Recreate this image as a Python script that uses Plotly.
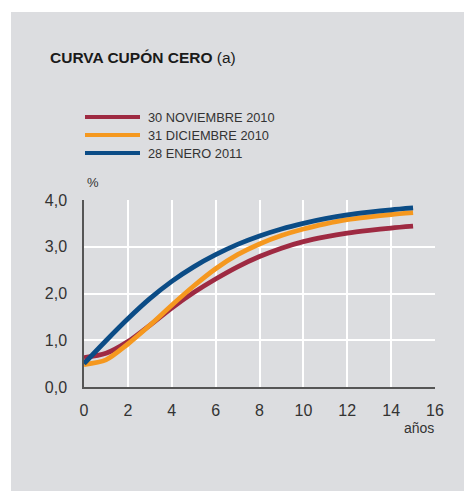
import plotly.graph_objects as go

# zero-coupon curves (years -> %)
years = [0, 1, 2, 3, 4, 5, 6, 7, 8, 9, 10, 11, 12, 13, 14, 15]
nov_2010 = [0.63, 0.72, 0.97, 1.32, 1.69, 2.02, 2.31, 2.57, 2.79, 2.97, 3.11, 3.21, 3.29, 3.35, 3.40, 3.44]
dic_2010 = [0.48, 0.58, 0.92, 1.32, 1.75, 2.16, 2.53, 2.83, 3.06, 3.24, 3.38, 3.49, 3.58, 3.64, 3.69, 3.73]
ene_2011 = [0.50, 0.99, 1.46, 1.89, 2.26, 2.57, 2.83, 3.05, 3.23, 3.38, 3.50, 3.60, 3.68, 3.74, 3.79, 3.83]

names = ["30 NOVIEMBRE 2010", "31 DICIEMBRE 2010", "28 ENERO 2011"]
colors = ["#9e2a42", "#f5981f", "#0b4c86"]
series = [nov_2010, dic_2010, ene_2011]

x_ticks = [0, 2, 4, 6, 8, 10, 12, 14, 16]
y_ticks = [0, 1, 2, 3, 4]
y_labels = ["0,0", "1,0", "2,0", "3,0", "4,0"]

W, H = 464, 491
ml, mr, mt, mb = 84, 29, 200, 104
pw, ph = W - ml - mr, H - mt - mb


def px(x):  # pixel -> paper x
    return (x - ml) / pw


def py(y):  # pixel -> paper y
    return (H - mb - y) / ph


fig = go.Figure()
for name, col, vals in zip(names, colors, series):
    fig.add_trace(go.Scatter(x=years, y=vals, name=name, mode="lines",
                             line=dict(color=col, width=4.8, shape="spline", smoothing=0.8),
                             showlegend=False))

shapes = [dict(type="rect", xref="paper", yref="paper", layer="below",
               x0=px(11), x1=px(W + 5), y0=py(H + 5), y1=py(12),
               fillcolor="#dcdde0", line_width=0)]
annotations = []
for i, (name, col) in enumerate(zip(names, colors)):
    yy = 117 + 18 * i
    shapes.append(dict(type="line", xref="paper", yref="paper",
                       x0=px(85), x1=px(140), y0=py(yy), y1=py(yy),
                       line=dict(color=col, width=4)))
    annotations.append(dict(text=name, xref="paper", yref="paper", x=px(146), y=py(yy),
                            xanchor="left", yanchor="middle", showarrow=False,
                            font=dict(size=12.8, color="#333333")))

annotations += [
    dict(text="<b>CURVA CUPÓN CERO</b> (a)", xref="paper", yref="paper", x=px(48), y=py(57),
         xanchor="left", yanchor="middle", showarrow=False,
         font=dict(size=15.5, color="#1a1a1a")),
    dict(text="%", xref="paper", yref="paper", x=px(85), y=py(182),
         xanchor="left", yanchor="middle", showarrow=False,
         font=dict(size=13, color="#333333")),
    dict(text="años", xref="paper", yref="paper", x=px(436), y=py(428),
         xanchor="right", yanchor="middle", showarrow=False,
         font=dict(size=14, color="#333333")),
]

fig.update_layout(
    width=W, height=H,
    margin=dict(l=ml, r=mr, t=mt, b=mb),
    paper_bgcolor="white", plot_bgcolor="rgba(0,0,0,0)",
    font=dict(family="Liberation Sans, Arial, sans-serif", color="#333333"),
    shapes=shapes, annotations=annotations,
    xaxis=dict(range=[0, 16], tickvals=x_ticks, showgrid=True, gridcolor="white", gridwidth=1.5,
               zeroline=False, showline=True, linecolor="#555555", linewidth=1.5,
               ticks="", tickfont=dict(size=16), ticklabelstandoff=8),
    yaxis=dict(range=[0, 4], tickvals=y_ticks, ticktext=y_labels, showgrid=True,
               gridcolor="white", gridwidth=1.5, zeroline=False, showline=True,
               linecolor="#555555", linewidth=1.5, ticks="", tickfont=dict(size=16),
               ticklabelstandoff=12),
)

fig.write_html("out.html", config={"displayModeBar": False},
               post_script="document.body.style.margin='0';")
